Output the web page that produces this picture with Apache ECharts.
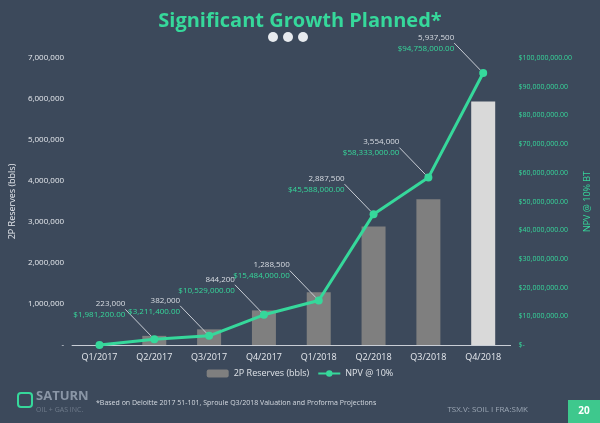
<!DOCTYPE html>
<html>
<head>
<meta charset="utf-8">
<script src="https://cdn.jsdelivr.net/npm/echarts@6/dist/echarts.min.js"></script>
<style>
  html, body { margin: 0; padding: 0; background: #3c495b; }
  #chart { width: 600px; height: 423px; }
</style>
</head>
<body>
<div id="chart"></div>
<script>
const quarters = ['Q1/2017', 'Q2/2017', 'Q3/2017', 'Q4/2017', 'Q1/2018', 'Q2/2018', 'Q3/2018', 'Q4/2018'];
const reserves = [0, 223000, 382000, 844200, 1288500, 2887500, 3554000, 5937500];
const npv = [0, 1981200, 3211400, 10529000, 15484000, 45588000, 58333000, 94758000];

const green = '#36d89b';
const fmtInt = v => v.toLocaleString('en-US');
const fmtMoney = v => '$' + v.toLocaleString('en-US', { minimumFractionDigits: 2, maximumFractionDigits: 2 });

const chart = echarts.init(document.getElementById('chart'));

chart.setOption({
  backgroundColor: '#3c495b',
  textStyle: { fontFamily: 'Open Sans' },
  title: {
    text: 'Significant Growth Planned*',
    left: 'center', top: 6,
    textStyle: { color: green, fontSize: 20, fontWeight: 'bold', fontFamily: 'Open Sans' }
  },
  legend: {
    bottom: 40, left: 'center',
    itemWidth: 22, itemHeight: 8,
    textStyle: { color: '#dfe3e8', fontSize: 9 },
    data: ['2P Reserves (bbls)', 'NPV @ 10%']
  },
  grid: { left: 58, right: 78, top: 58, bottom: 78 },
  xAxis: {
    type: 'category',
    data: quarters,
    axisLine: { lineStyle: { color: '#c9ced6' } },
    axisTick: { show: false },
    axisLabel: { color: '#e6e9ee', fontSize: 9 }
  },
  yAxis: [{
    type: 'value', min: 0, max: 7000000, interval: 1000000,
    name: '2P Reserves (bbls)', nameLocation: 'middle', nameGap: 46, nameRotate: 90,
    nameTextStyle: { color: '#e6e9ee', fontSize: 9 },
    splitLine: { show: false },
    axisLabel: { color: '#e6e9ee', fontSize: 8, formatter: v => v === 0 ? '-' : fmtInt(v) }
  }, {
    type: 'value', min: 0, max: 100000000, interval: 10000000,
    name: 'NPV @ 10% BT', nameLocation: 'middle', nameGap: 68, nameRotate: 90,
    nameTextStyle: { color: green, fontSize: 9 },
    splitLine: { show: false },
    axisLabel: { color: green, fontSize: 7, formatter: v => v === 0 ? '$-' : fmtMoney(v) }
  }],
  series: [{
    name: '2P Reserves (bbls)',
    type: 'bar',
    barWidth: 24,
    itemStyle: { color: '#7f7f7f' },
    data: reserves.map((v, i) => i === reserves.length - 1
      ? { value: v, itemStyle: { color: '#d9d9d9' } } : v)
  }, {
    name: 'NPV @ 10%',
    type: 'line',
    yAxisIndex: 1,
    symbol: 'circle', symbolSize: 8,
    itemStyle: { color: green },
    lineStyle: { color: green, width: 3 },
    data: npv.map((v, i) => i === 0 ? { value: v, label: { show: false }, labelLine: { show: false } } : v),
    label: {
      show: true,
      position: 'left',
      align: 'right',
      lineHeight: 11,
      formatter: p => '{a|' + fmtInt(reserves[p.dataIndex]) + '}\n{b|' + fmtMoney(p.value) + '}',
      rich: {
        a: { color: '#d9dde3', fontSize: 8, align: 'right' },
        b: { color: green, fontSize: 8, align: 'right' }
      }
    },
    labelLayout: { dx: -20, dy: -30 },
    labelLine: { show: true, lineStyle: { color: '#c9ced6', width: 1 } }
  }],
  graphic: [
    { type: 'circle', shape: { cx: 273, cy: 37, r: 5 }, style: { fill: '#e8ebef' } },
    { type: 'circle', shape: { cx: 288, cy: 37, r: 5 }, style: { fill: '#e8ebef' } },
    { type: 'circle', shape: { cx: 303, cy: 37, r: 5 }, style: { fill: '#e8ebef' } },
    { type: 'rect', shape: { x: 18, y: 393, width: 14, height: 14, r: 3 },
      style: { fill: 'none', stroke: green, lineWidth: 2 } },
    { type: 'text', left: 36, top: 390, style: { text: 'SATURN', fill: '#8a96a6', font: 'bold 13px Open Sans' } },
    { type: 'text', left: 36, top: 406, style: { text: 'OIL + GAS INC.', fill: '#6f7b8b', font: '7px Open Sans' } },
    { type: 'text', left: 96, top: 399, style: { text: '*Based on Deloitte 2017 51-101, Sproule Q3/2018 Valuation and Proforma Projections', fill: '#d5dae1', font: '7px Open Sans' } },
    { type: 'text', right: 72, top: 406, style: { text: 'TSX.V: SOIL I FRA:SMK', fill: '#9aa5b3', font: '8px Open Sans' } },
    { type: 'rect', shape: { x: 568, y: 400, width: 32, height: 23 }, style: { fill: '#3ec88d' } },
    { type: 'text', x: 584, y: 411, style: { text: '20', fill: '#ffffff', font: 'bold 10px Open Sans', align: 'center', verticalAlign: 'middle' } }
  ]
});
</script>
</body>
</html>
